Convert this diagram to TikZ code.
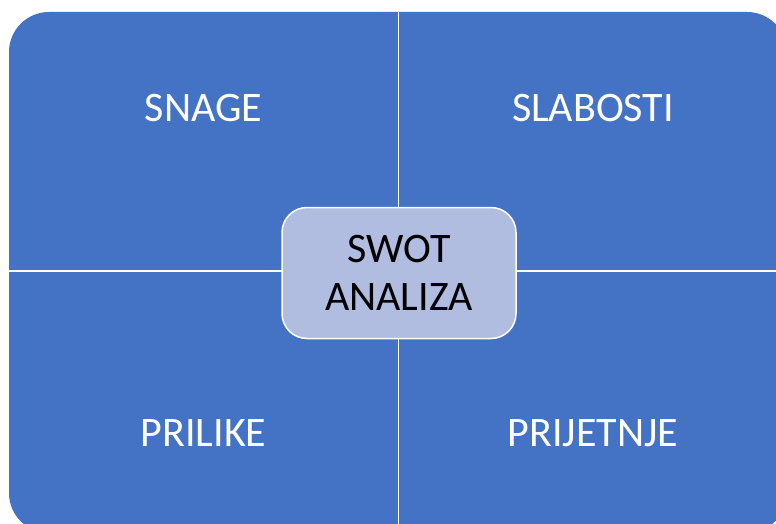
\documentclass[tikz,border=0pt]{standalone}
\usepackage{fontspec}
\setmainfont{Carlito}
\definecolor{quadblue}{RGB}{68,114,196}
\definecolor{centerblue}{RGB}{176,188,224}
\tikzset{
  quadlabel/.style={text=white,anchor=base,inner sep=0pt,font=\fontsize{42}{48}\selectfont},
  centerbox/.style={draw=white,line width=1.5pt,fill=centerblue,rounded corners=25pt,
    minimum width=234pt,minimum height=131pt,align=center,font=\fontsize{42}{48}\selectfont}
}
\begin{document}
\begin{tikzpicture}[x=1pt,y=-1pt]
    \clip (0,0) rectangle (776,524);
    \fill[white] (0,0) rectangle (776,524);
    % four fields as one rounded block
    \fill[quadblue,rounded corners=40pt] (9,12) rectangle (787,533);
    \coordinate (top) at (398.5,12);
    \coordinate (bottom) at (398.5,533);
    \coordinate (left) at (9,271);
    \coordinate (right) at (787,271);
    \draw[white,line width=1.5pt] (top) -- (bottom);
    \draw[white,line width=1.5pt] (left) -- (right);
    \node[quadlabel] (snage) at (203.5,122) {SNAGE};
    \node[quadlabel] (slabosti) at (593,122) {SLABOSTI};
    \node[quadlabel] (prilike) at (203.5,446) {PRILIKE};
    \node[quadlabel] (prijetnje) at (593,446) {PRIJETNJE};
    \node[centerbox] (swot) at (399,273) {SWOT\\ANALIZA};
\end{tikzpicture}
\end{document}
